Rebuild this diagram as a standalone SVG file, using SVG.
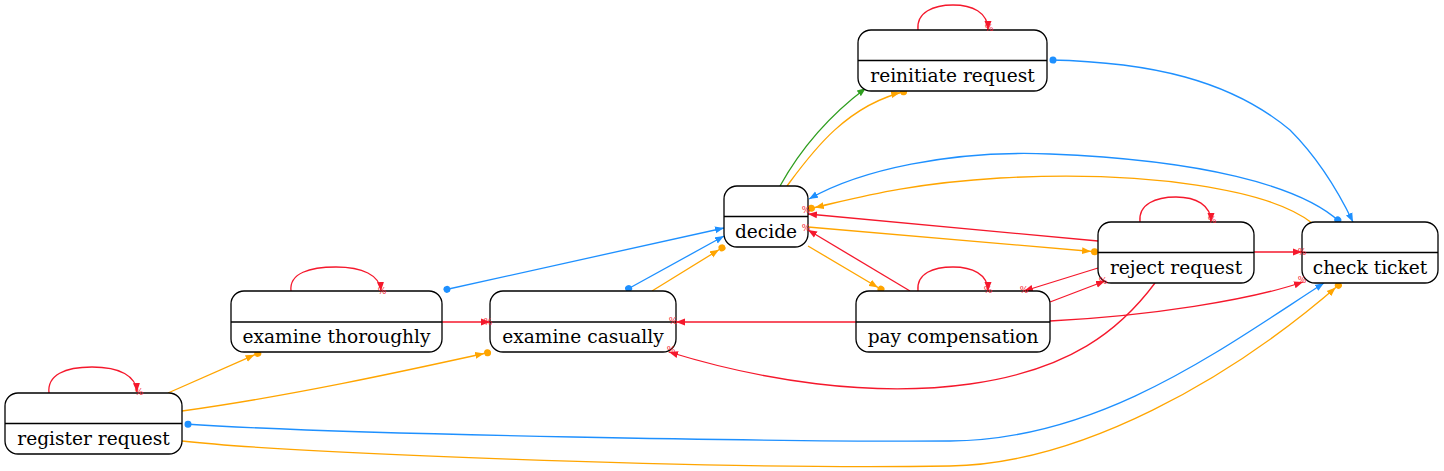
<svg xmlns="http://www.w3.org/2000/svg" width="1444" height="471" viewBox="0 0 1444 471">
<style>
.node rect{fill:#fff;stroke:#000;stroke-width:1.3}
.node line{stroke:#000;stroke-width:1.3}
.node text{font-family:"DejaVu Serif",serif;font-size:18.6px;text-anchor:middle;fill:#000}
.e{fill:none;stroke-width:1.3}
.r{stroke:#f5182c;marker-end:url(#aR)}
.o{stroke:#ffa500;marker-end:url(#aO)}
.b{stroke:#1e90ff;marker-end:url(#aB);marker-start:url(#dB)}
.g{stroke:#2f9e1f;marker-end:url(#aG)}
.pct{font-family:"DejaVu Serif",serif;font-size:9px;fill:#f5182c;text-anchor:middle}
</style>
<defs>
<marker id="aR" markerUnits="userSpaceOnUse" markerWidth="10" markerHeight="8" refX="9" refY="4" orient="auto" viewBox="0 0 10 8"><path d="M0,0.5 L9,4 L0,7.5 z" fill="#f5182c"/></marker>
<marker id="aB" markerUnits="userSpaceOnUse" markerWidth="10" markerHeight="8" refX="9" refY="4" orient="auto" viewBox="0 0 10 8"><path d="M0,0.5 L9,4 L0,7.5 z" fill="#1e90ff"/></marker>
<marker id="aG" markerUnits="userSpaceOnUse" markerWidth="10" markerHeight="8" refX="9" refY="4" orient="auto" viewBox="0 0 10 8"><path d="M0,0.5 L9,4 L0,7.5 z" fill="#2f9e1f"/></marker>
<marker id="aO" markerUnits="userSpaceOnUse" markerWidth="16" markerHeight="8" refX="16" refY="4" orient="auto" viewBox="0 0 16 8"><path d="M0,0.5 L9,4 L0,7.5 z" fill="#ffa500"/><circle cx="12.5" cy="4" r="3.5" fill="#ffa500"/></marker>
<marker id="dB" markerUnits="userSpaceOnUse" markerWidth="8" markerHeight="8" refX="1" refY="4" orient="auto" viewBox="0 0 8 8"><circle cx="4" cy="4" r="3.5" fill="#1e90ff"/></marker>
</defs>
<g id="connectors">
<path class="e r" d="M49,393 C47,375 65,367 92,367 C120,367 136,376 137,392"/>
<path class="e r" d="M291,291 C289,273 310,267 336,267 C362,267 380,275 381,291"/>
<path class="e r" d="M918,30 C916,12 934,5 953,5 C972,5 988,12 988,30"/>
<path class="e r" d="M918,291 C916,273 934,267 953,267 C972,267 988,274 988,291"/>
<path class="e r" d="M1140,222 C1138,204 1156,197 1176,197 C1196,197 1211,205 1211,222"/>
<path class="e r" d="M442,322 L490,322"/>
<path class="e r" d="M856,322 L676,322"/>
<path class="e r" d="M1098,241 L808,214"/>
<path class="e r" d="M910,291 L808,230"/>
<path class="e r" d="M1098,268 L1024,291"/>
<path class="e r" d="M1050,302 L1105,281"/>
<path class="e r" d="M1254,252 L1302,252"/>
<path class="e r" d="M1050,321 C1150,316 1250,300 1303,282"/>
<path class="e r" d="M1155,283 C1120,330 1070,370 970,384 C870,398 760,380 669,352"/>
<path class="e o" d="M168,393 L261,352"/>
<path class="e o" d="M182,411 C290,396 400,372 491,352"/>
<path class="e o" d="M182,441 C280,452 700,470 950,466 C1080,464 1230,380 1341,283"/>
<path class="e o" d="M652,291 L725,246"/>
<path class="e o" d="M787,186 C810,155 845,105 907,91"/>
<path class="e o" d="M808,227 L1098,252"/>
<path class="e o" d="M808,246 L884,291"/>
<path class="e o" d="M1312,223 C1270,190 1150,170 1000,178 C900,184 850,200 808,209"/>
<path class="e g" d="M780,186 C800,150 830,115 866,88"/>
<path class="e b" d="M444,290 L724,228"/>
<path class="e b" d="M626,290 L724,236"/>
<path class="e b" d="M1050,60 C1150,62 1230,80 1290,130 C1320,160 1340,195 1353,222"/>
<path class="e b" d="M1340,222 C1300,185 1200,160 1050,154 C950,150 860,170 809,199"/>
<path class="e b" d="M185,424 C350,435 800,442 950,441 C1100,440 1220,350 1324,283"/>
</g>
<g id="register_request" class="node"><rect x="5" y="393" width="177" height="61" rx="13"/><line x1="5" y1="423.5" x2="182" y2="423.5"/><text x="93.5" y="445">register request</text></g>
<g id="examine_thoroughly" class="node"><rect x="231" y="291" width="211" height="61" rx="13"/><line x1="231" y1="322" x2="442" y2="322"/><text x="336.5" y="343">examine thoroughly</text></g>
<g id="examine_casually" class="node"><rect x="490" y="291" width="186" height="61" rx="13"/><line x1="490" y1="322" x2="676" y2="322"/><text x="583" y="343">examine casually</text></g>
<g id="decide" class="node"><rect x="724" y="186" width="84" height="61" rx="13"/><line x1="724" y1="216.5" x2="808" y2="216.5"/><text x="766" y="238">decide</text></g>
<g id="reinitiate_request" class="node"><rect x="858" y="30" width="189" height="61" rx="13"/><line x1="858" y1="60.5" x2="1047" y2="60.5"/><text x="952.5" y="82">reinitiate request</text></g>
<g id="pay_compensation" class="node"><rect x="856" y="291" width="194" height="61" rx="13"/><line x1="856" y1="322" x2="1050" y2="322"/><text x="953" y="343">pay compensation</text></g>
<g id="reject_request" class="node"><rect x="1098" y="222" width="156" height="61" rx="13"/><line x1="1098" y1="252.5" x2="1254" y2="252.5"/><text x="1176" y="274">reject request</text></g>
<g id="check_ticket" class="node"><rect x="1302" y="222" width="136" height="61" rx="13"/><line x1="1302" y1="252.5" x2="1438" y2="252.5"/><text x="1370" y="274">check ticket</text></g>
<g id="edge-labels">
<text class="pct" x="139" y="395">%</text>
<text class="pct" x="382" y="294">%</text>
<text class="pct" x="488" y="325">%</text>
<text class="pct" x="673" y="324">%</text>
<text class="pct" x="671" y="353">%</text>
<text class="pct" x="806" y="213">%</text>
<text class="pct" x="806" y="231">%</text>
<text class="pct" x="989" y="31">%</text>
<text class="pct" x="988" y="293">%</text>
<text class="pct" x="1024" y="293">%</text>
<text class="pct" x="1103" y="284">%</text>
<text class="pct" x="1212" y="223">%</text>
<text class="pct" x="1302" y="255">%</text>
<text class="pct" x="1302" y="283">%</text>
</g>
</svg>
